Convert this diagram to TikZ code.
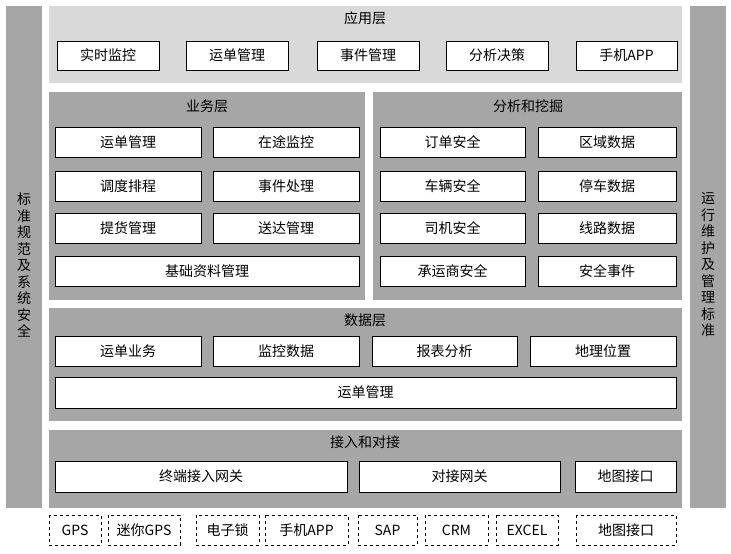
\documentclass[tikz,border=0pt]{standalone}
\usepackage{fontspec}
\setmainfont{Liberation Serif}
\newfontfamily\cjk{Noto Sans CJK SC}
\begin{document}
\begin{tikzpicture}[x=1pt,y=-1pt,
  txt/.style={font=\cjk\fontsize{14}{16}\selectfont},
  vtxt/.style={font=\cjk\fontsize{14}{16.5}\selectfont,align=center},
  bx/.style={draw=black,fill=white,line width=0.8pt},
  dbx/.style={draw=black,dashed,fill=white,line width=0.7pt}]
\definecolor{lay}{HTML}{A6A6A6}
\definecolor{lite}{HTML}{D9D9D9}
\useasboundingbox (0,0) rectangle (731,554);
\fill[white] (0,0) rectangle (731,554);
\newcommand\bxx[6]{\draw[#6] (#2,#3) rectangle (#4,#5); \node[txt] (#1) at ({(#2+#4)/2},{(#3+#5)/2}) {#1};}
% side bars
\fill[lay] (6,6) rectangle (42,508);
\fill[lay] (690,6) rectangle (726,508);
\node[vtxt] (left) at (24,265) {标\\准\\规\\范\\及\\系\\统\\安\\全};
\node[vtxt] (right) at (708,265) {运\\行\\维\\护\\及\\管\\理\\标\\准};
% app layer
\fill[lite] (49,6) rectangle (682,83);
\node[txt] (app) at (365,18) {应用层};
\bxx{实时监控}{57}{41}{159}{70}{bx}
\bxx{运单管理}{186}{41}{288}{70}{bx}
\bxx{事件管理}{317}{41}{419}{70}{bx}
\bxx{分析决策}{446}{41}{548}{70}{bx}
\bxx{手机APP}{576}{41}{677}{70}{bx}
% business
\fill[lay] (49,92) rectangle (365,300);
\node[txt] (biz) at (207,106) {业务层};
\bxx{运单管理}{55}{127}{201}{157}{bx}
\bxx{在途监控}{213}{127}{359}{157}{bx}
\bxx{调度排程}{55}{171}{201}{201}{bx}
\bxx{事件处理}{213}{171}{359}{201}{bx}
\bxx{提货管理}{55}{213}{201}{243}{bx}
\bxx{送达管理}{213}{213}{359}{243}{bx}
\bxx{基础资料管理}{55}{256}{359}{286}{bx}
% analysis
\fill[lay] (373,92) rectangle (682,300);
\node[txt] (ana) at (528,106) {分析和挖掘};
\bxx{订单安全}{380}{127}{525}{157}{bx}
\bxx{区域数据}{538}{127}{676}{157}{bx}
\bxx{车辆安全}{380}{171}{525}{201}{bx}
\bxx{停车数据}{538}{171}{676}{201}{bx}
\bxx{司机安全}{380}{213}{525}{243}{bx}
\bxx{线路数据}{538}{213}{676}{243}{bx}
\bxx{承运商安全}{380}{256}{525}{286}{bx}
\bxx{安全事件}{538}{256}{676}{286}{bx}
% data
\fill[lay] (49,308) rectangle (682,421);
\node[txt] (data) at (365,320) {数据层};
\bxx{运单业务}{55}{336}{201}{366}{bx}
\bxx{监控数据}{213}{336}{359}{366}{bx}
\bxx{报表分析}{372}{336}{517}{366}{bx}
\bxx{地理位置}{530}{336}{676}{366}{bx}
\bxx{运单管理}{55}{377}{676}{408}{bx}
% access
\fill[lay] (49,430) rectangle (682,508);
\node[txt] (acc) at (365,442) {接入和对接};
\bxx{终端接入网关}{55}{461}{347}{492}{bx}
\bxx{对接网关}{359}{461}{560}{492}{bx}
\bxx{地图接口}{575}{461}{676}{492}{bx}
% sources
\bxx{GPS}{49}{515}{101}{545}{dbx}
\bxx{迷你GPS}{108}{515}{180}{545}{dbx}
\bxx{电子锁}{196}{515}{259}{545}{dbx}
\bxx{手机APP}{265}{515}{348}{545}{dbx}
\bxx{SAP}{358}{515}{417}{545}{dbx}
\bxx{CRM}{425}{515}{488}{545}{dbx}
\bxx{EXCEL}{496}{515}{558}{545}{dbx}
\bxx{地图接口}{576}{515}{676}{545}{dbx}
\end{tikzpicture}
\end{document}
